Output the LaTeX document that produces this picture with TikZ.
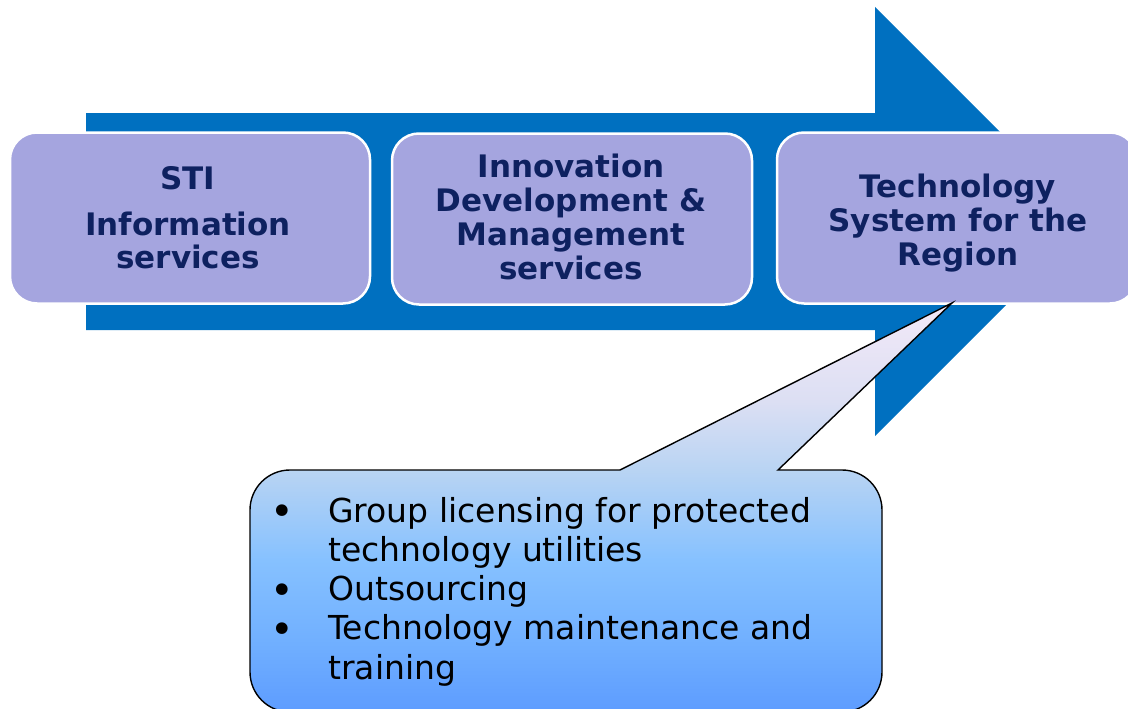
\documentclass[tikz,border=0pt]{standalone}
\usepackage{fontspec}
\setmainfont{DejaVu Sans}
\usetikzlibrary{shapes.misc}
\definecolor{arrowblue}{HTML}{0070C0}
\definecolor{boxfill}{HTML}{A5A5DF}
\definecolor{navy}{HTML}{0E2160}
\definecolor{cT}{HTML}{F3E9F8}
\definecolor{cF}{HTML}{DCDFF3}
\definecolor{cE}{HTML}{B9D4F3}
\definecolor{cD}{HTML}{86C1FF}
\definecolor{cC}{HTML}{71B0FF}
\definecolor{cB}{HTML}{5D9CFF}
\pgfdeclareverticalshading{callshade}{100bp}{color(0bp)=(cB); color(25bp)=(cB); color(33.8bp)=(cC); color(43.6bp)=(cD); color(54.6bp)=(cE); color(63bp)=(cF); color(75bp)=(cT); color(100bp)=(cT)}
\newcommand{\bigbul}{\raisebox{-3.5pt}{\fontsize{40}{40}\selectfont\textbullet}}
\tikzset{
  stage/.style={rectangle, rounded corners=27pt, fill=boxfill, draw=white, line width=2.5pt,
    minimum width=360pt, minimum height=171pt, inner sep=0pt},
  stagetext/.style={anchor=base, inner sep=0pt, text=navy,
    font=\fontsize{31}{34}\selectfont\bfseries},
  listtext/.style={anchor=base west, inner sep=0pt, text=black,
    font=\fontsize{33}{39.3}\selectfont}
}
\begin{document}
\begin{tikzpicture}[x=1pt,y=1pt]
\useasboundingbox (0,0) rectangle (1128,-709);
\clip (0,0) rectangle (1128,-709);
% big arrow
\fill[arrowblue] (86,-113) -- (875,-113) -- (875,-7) -- (1089.5,-221.5) -- (875,-436) -- (875,-330) -- (86,-330) -- cycle;
% stage boxes
\node[stage] (b1) at (190,-218) {};
\node[stage] (b2) at (572,-219) {};
\node[stage] (b3) at (957,-218) {};
\node[stagetext] (t1) at (188,-189) {\begin{tabular}[t]{@{}c@{}}STI\\[12pt]Information\\services\end{tabular}};
\node[stagetext] (t2) at (571,-177) {\begin{tabular}[t]{@{}c@{}}Innovation\\Development \&\\Management\\services\end{tabular}};
\node[stagetext] (t3) at (958,-197) {\begin{tabular}[t]{@{}c@{}}Technology\\System for the\\Region\end{tabular}};
% callout
\path[shading=callshade, draw=black, line width=1.4pt]
  (620,-470) -- (952,-303) -- (778,-470) -- (842,-470)
  arc[start angle=90, end angle=0, radius=40] -- (882,-672)
  arc[start angle=0, end angle=-90, radius=40] -- (290,-712)
  arc[start angle=270, end angle=180, radius=40] -- (250,-510)
  arc[start angle=180, end angle=90, radius=40] -- cycle;
\node[listtext] (list) at (270.5,-522) {\begin{tabular}[t]{@{}c@{\hspace{34pt}}l@{}}
\bigbul & Group licensing for protected\\
 & technology utilities\\
\bigbul & Outsourcing\\
\bigbul & Technology maintenance and\\
 & training
\end{tabular}};
\end{tikzpicture}
\end{document}
